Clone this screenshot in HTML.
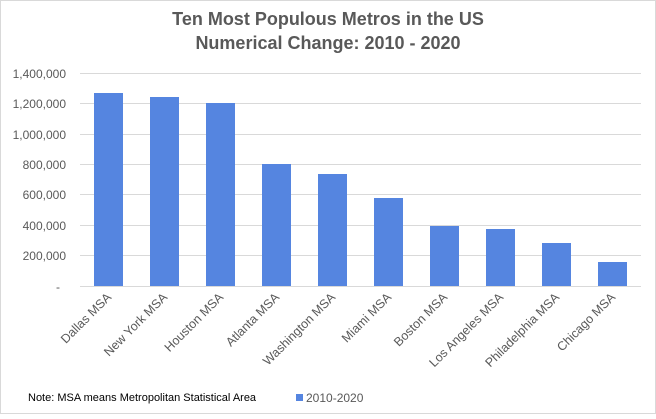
<!DOCTYPE html>
<html><head><style>
html,body{margin:0;padding:0;background:#fff}
</style></head><body>
<svg width="656" height="414" xmlns="http://www.w3.org/2000/svg" font-family="'Liberation Sans',sans-serif">
<rect x="0.5" y="0.5" width="655" height="413" fill="#fff" stroke="#d9d9d9"/>
<text x="328" y="25" text-anchor="middle" font-size="18" font-weight="bold" fill="#595959">Ten Most Populous Metros in the US</text>
<text x="328" y="49" text-anchor="middle" font-size="18" font-weight="bold" fill="#595959">Numerical Change: 2010 - 2020</text>
<g stroke="#d9d9d9" stroke-width="1">
<line x1="80" x2="641" y1="73.5" y2="73.5"/>
<line x1="80" x2="641" y1="103.5" y2="103.5"/>
<line x1="80" x2="641" y1="134.5" y2="134.5"/>
<line x1="80" x2="641" y1="164.5" y2="164.5"/>
<line x1="80" x2="641" y1="194.5" y2="194.5"/>
<line x1="80" x2="641" y1="225.5" y2="225.5"/>
<line x1="80" x2="641" y1="255.5" y2="255.5"/>
<line x1="80" x2="641" y1="286.5" y2="286.5"/>
</g>
<g font-size="12" fill="#595959" text-anchor="end">
<text x="66" y="78">1,400,000</text>
<text x="66" y="108">1,200,000</text>
<text x="66" y="139">1,000,000</text>
<text x="66" y="169">800,000</text>
<text x="66" y="199">600,000</text>
<text x="66" y="230">400,000</text>
<text x="66" y="260">200,000</text>
<text x="60" y="291">-</text>
</g>
<g fill="#5585e0">
<rect x="94" y="93" width="29" height="193"/>
<rect x="150" y="97" width="29" height="189"/>
<rect x="206" y="103" width="29" height="183"/>
<rect x="262" y="164" width="29" height="122"/>
<rect x="318" y="174" width="29" height="112"/>
<rect x="374" y="198" width="29" height="88"/>
<rect x="430" y="226" width="29" height="60"/>
<rect x="486" y="229" width="29" height="57"/>
<rect x="542" y="243" width="29" height="43"/>
<rect x="598" y="262" width="29" height="24"/>
</g>
<g font-size="12.5" fill="#595959" text-anchor="end">
<text transform="translate(112,298) rotate(-45)">Dallas MSA</text>
<text transform="translate(168,298) rotate(-45)">New York MSA</text>
<text transform="translate(224,298) rotate(-45)">Houston MSA</text>
<text transform="translate(280,298) rotate(-45)">Atlanta MSA</text>
<text transform="translate(336,298) rotate(-45)">Washington MSA</text>
<text transform="translate(392,298) rotate(-45)">Miami MSA</text>
<text transform="translate(448,298) rotate(-45)">Boston MSA</text>
<text transform="translate(504,298) rotate(-45)">Los Angeles MSA</text>
<text transform="translate(560,298) rotate(-45)">Philadelphia MSA</text>
<text transform="translate(616,298) rotate(-45)">Chicago MSA</text>
</g>
<text x="28" y="401" font-size="11" fill="#000">Note: MSA means Metropolitan Statistical Area</text>
<rect x="296" y="394" width="7" height="7" fill="#5585e0"/>
<text x="306" y="402" font-size="12" fill="#595959">2010-2020</text>
</svg>
</body></html>
